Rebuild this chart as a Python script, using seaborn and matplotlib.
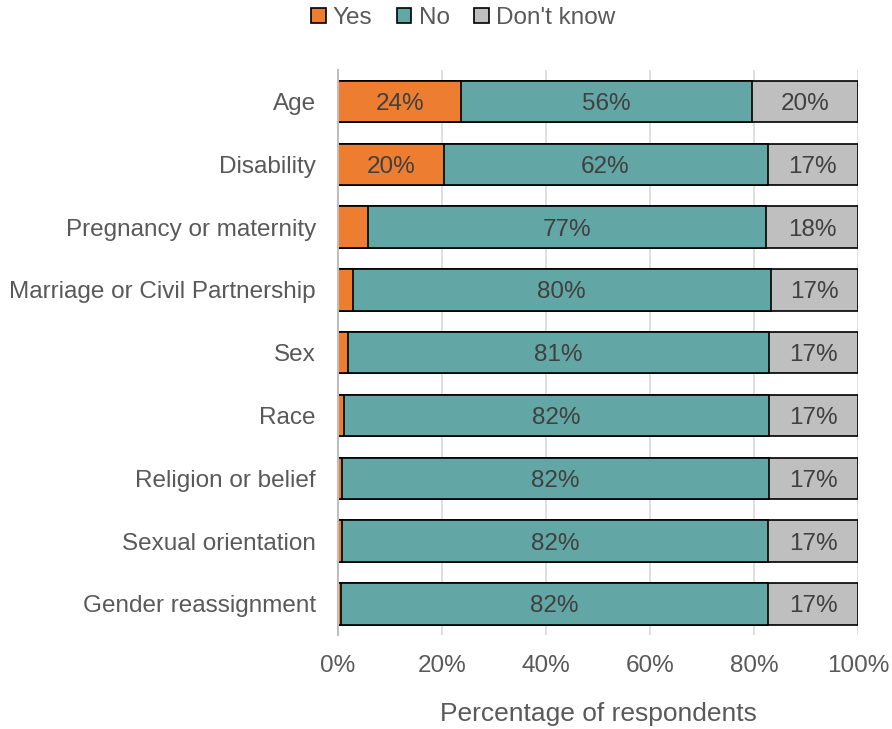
import matplotlib
matplotlib.use("Agg")
import matplotlib.pyplot as plt
from matplotlib.patches import Patch
import numpy as np
import pandas as pd
import seaborn as sns

# Survey responses (% of respondents) per protected characteristic
categories = [
    "Age",
    "Disability",
    "Pregnancy or maternity",
    "Marriage or Civil Partnership",
    "Sex",
    "Race",
    "Religion or belief",
    "Sexual orientation",
    "Gender reassignment",
]
yes_pct = [23.7, 20.3, 5.8, 2.8, 1.9, 1.1, 0.8, 0.7, 0.6]
no_pct = [55.9, 62.3, 76.6, 80.4, 81.0, 81.7, 82.0, 82.0, 82.1]
dont_know_pct = [20.4, 17.4, 17.6, 16.8, 17.1, 17.2, 17.2, 17.3, 17.3]

series_names = ["Yes", "No", "Don't know"]
series_colors = ["#ED7D31", "#62A6A6", "#BFBFBF"]
tick_values = [0, 20, 40, 60, 80, 100]
tick_labels = ["0%", "20%", "40%", "60%", "80%", "100%"]

TEXT = "#595959"
LABEL = "#404040"
GRID = "#D9D9D9"
FONT = ["Liberation Sans", "DejaVu Sans"]
FS = 17.5

sns.set_theme(style="white")
plt.rcParams["font.family"] = FONT

df = pd.DataFrame({
    "category": categories,
    "Yes": yes_pct,
    "No": no_pct,
    "Don't know": dont_know_pct,
})
# cumulative right edges of each stacked segment
df["cum_yes"] = df["Yes"]
df["cum_no"] = df["Yes"] + df["No"]
df["cum_dk"] = df["cum_no"] + df["Don't know"]

W, H = 892, 729
fig = plt.figure(figsize=(W / 100, H / 100), dpi=100)
ax = fig.add_axes([338 / W, 1 - 635.4 / H, 520 / W, (635.4 - 70.1) / H])

ax.set_axisbelow(True)
ax.xaxis.grid(True, color=GRID, linewidth=1.2)
ax.yaxis.grid(False)

# draw the stack from the outermost segment inwards so each layer overlays the next
for col, color in zip(["cum_dk", "cum_no", "cum_yes"], series_colors[::-1]):
    sns.barplot(
        data=df, x=col, y="category", order=categories, orient="h",
        color=color, edgecolor="black", linewidth=1.2, width=0.66,
        saturation=1, ax=ax,
    )

# value labels centred in each segment (only where the segment is wide enough)
for i, row in df.iterrows():
    starts = [0, row["cum_yes"], row["cum_no"]]
    vals = [row["Yes"], row["No"], row["Don't know"]]
    for s, v in zip(starts, vals):
        if v >= 10:
            ax.text(s + v / 2, i, f"{v:.0f}%", ha="center", va="center_baseline",
                    fontsize=FS, color=LABEL)

ax.set_xlim(0, 100)
ax.set_ylim(len(categories) - 0.5, -0.5)
ax.set_xticks(tick_values)
ax.set_xticklabels(tick_labels)
ax.tick_params(axis="x", length=0, pad=14, labelsize=FS, labelcolor=TEXT)
ax.tick_params(axis="y", length=0, pad=16, labelsize=FS, labelcolor=TEXT)
ax.set_ylabel("")
ax.set_xlabel("Percentage of respondents", fontsize=19, color=TEXT, labelpad=18)

for side in ["top", "right", "bottom"]:
    ax.spines[side].set_visible(False)
ax.spines["left"].set_color("#BFBFBF")
ax.spines["left"].set_linewidth(1.5)

handles = [Patch(facecolor=c, edgecolor="black", linewidth=1.2) for c in series_colors]
fig.legend(handles, series_names, loc="center", bbox_to_anchor=(463 / W, 1 - 18 / H),
           ncol=3, frameon=False, fontsize=FS, labelcolor=TEXT,
           handlelength=0.6, handleheight=0.6, handletextpad=0.3,
           columnspacing=1.0, borderaxespad=0)

fig.savefig("out.png", dpi=100)
